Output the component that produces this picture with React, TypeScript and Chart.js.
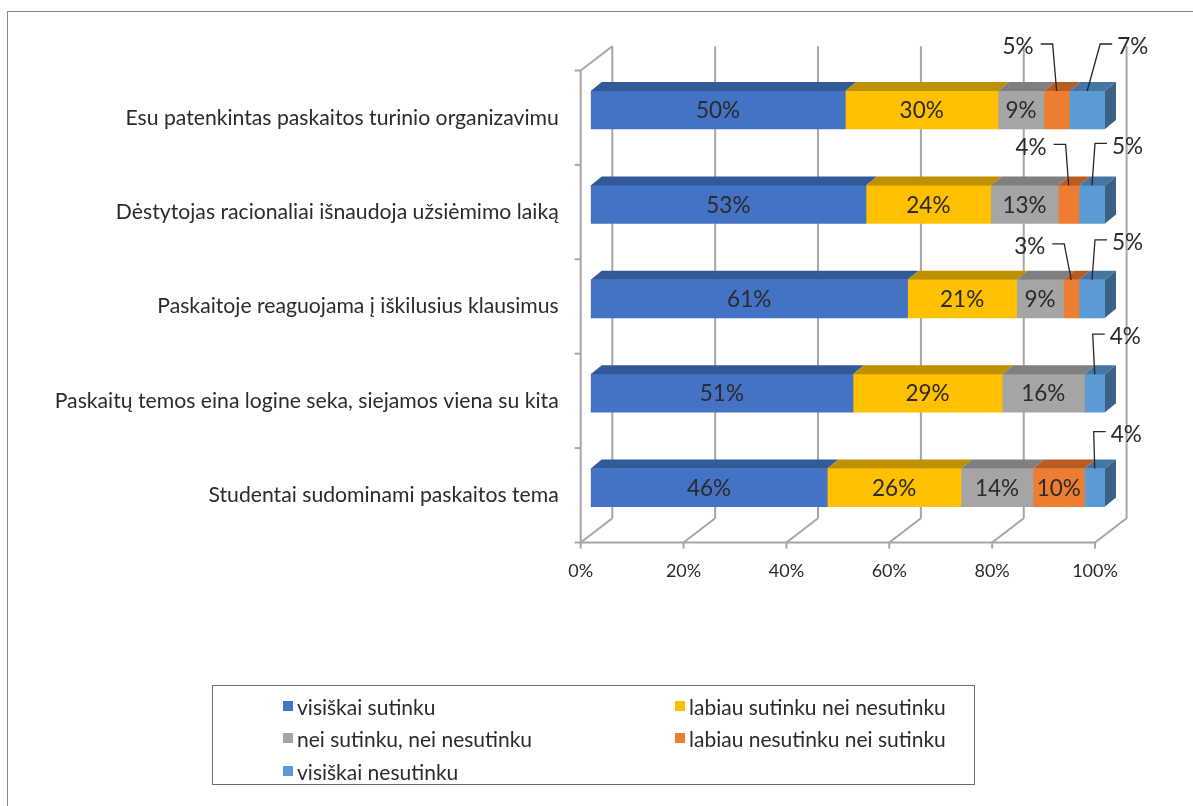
import React, { useEffect, useRef } from "react";
import { Chart, registerables } from "chart.js";
Chart.register(...registerables);

// ---------- data ----------
const categories = [
  "Esu patenkintas paskaitos turinio organizavimu",
  "Dėstytojas racionaliai išnaudoja užsiėmimo laiką",
  "Paskaitoje reaguojama į iškilusius klausimus",
  "Paskaitų temos eina logine seka, siejamos viena su kita",
  "Studentai sudominami paskaitos tema",
];
const seriesNames = [
  "visiškai sutinku",
  "labiau sutinku nei nesutinku",
  "nei sutinku, nei nesutinku",
  "labiau nesutinku nei sutinku",
  "visiškai nesutinku",
];
const visiskaiSutinku = [50, 53, 61, 51, 46];
const labiauSutinku = [30, 24, 21, 29, 26];
const neiSutinku = [9, 13, 9, 16, 14];
const labiauNesutinku = [5, 4, 3, 0, 10];
const visiskaiNesutinku = [7, 5, 5, 4, 4];
const xTickValues = [0, 20, 40, 60, 80, 100];

// ---------- styles ----------
const FONT = "Lato, 'Open Sans', sans-serif";
const frontColors = ["#4472C4", "#FFC000", "#A5A5A5", "#ED7D31", "#5B9BD5"];
const topColors = ["#335A98", "#BF9000", "#7F7F7F", "#BA5C22", "#4575A3"];
const SIDE_COLOR = "#3B6186";
const GRID = "#A6A6A6";
const TEXT = "#2B2B2B";
const FRONT = { dx: -10, dy: 7.7 };
const BACK = { dx: 21.6, dy: -16.6 };
const BAR_DEPTH = { dx: 11, dy: -9 };
// callout leader style per row: [elbow dx, elbow lift]
const orangeCallout = [[-4, 47], [-3, 41], [-7, 36], [0, 40], [0, 40]];
const blueCallout = [[13, 47], [3, 42], [3, 40], [-2, 40], [-1, 37]];

const seriesData = [visiskaiSutinku, labiauSutinku, neiSutinku, labiauNesutinku, visiskaiNesutinku];
const rowSums = categories.map((_, r) => seriesData.reduce((s, arr) => s + arr[r], 0));

const depthPlugin = {
  id: "depth3d",
  beforeDatasetsDraw(chart: any) {
    const { ctx, chartArea, scales } = chart;
    const xs = scales.x;
    const top = chartArea.top, bottom = chartArea.bottom;
    ctx.save();
    ctx.strokeStyle = GRID;
    ctx.lineWidth = 2;
    const line = (x1: number, y1: number, x2: number, y2: number) => {
      ctx.beginPath(); ctx.moveTo(x1, y1); ctx.lineTo(x2, y2); ctx.stroke();
    };
    const x0 = xs.getPixelForValue(0);
    const x100 = xs.getPixelForValue(100);
    xTickValues.forEach((v) => {
      const px = xs.getPixelForValue(v);
      line(px + BACK.dx, top + BACK.dy, px + BACK.dx, bottom + BACK.dy);
      line(px + FRONT.dx, bottom + FRONT.dy, px + BACK.dx, bottom + BACK.dy);
      line(px + FRONT.dx, bottom + FRONT.dy, px + FRONT.dx, bottom + FRONT.dy + 6);
    });
    line(x0 + FRONT.dx, top + FRONT.dy, x0 + FRONT.dx, bottom + FRONT.dy);
    line(x0 + FRONT.dx, top + FRONT.dy, x0 + BACK.dx, top + BACK.dy);
    line(x0 + FRONT.dx, bottom + FRONT.dy, x100 + FRONT.dx, bottom + FRONT.dy);
    const n = categories.length;
    const step = (bottom - top) / n;
    for (let i = 0; i <= n; i++) {
      const y = top + i * step + FRONT.dy;
      line(x0 + FRONT.dx - 6, y, x0 + FRONT.dx, y);
    }
    ctx.restore();
  },
  afterDatasetsDraw(chart: any) {
    const { ctx } = chart;
    ctx.save();
    const n = categories.length;
    const nd = chart.data.datasets.length;
    // top faces and side face
    for (let r = 0; r < n; r++) {
      let lastEl: any = null;
      for (let d = 0; d < nd; d++) {
        const el = chart.getDatasetMeta(d).data[r];
        const p = el.getProps(["x", "base", "y", "height"], true);
        if (Math.abs(p.x - p.base) < 0.5) continue;
        const t = p.y - p.height / 2;
        ctx.fillStyle = topColors[d];
        ctx.beginPath();
        ctx.moveTo(p.base, t);
        ctx.lineTo(p.x, t);
        ctx.lineTo(p.x + BAR_DEPTH.dx, t + BAR_DEPTH.dy);
        ctx.lineTo(p.base + BAR_DEPTH.dx, t + BAR_DEPTH.dy);
        ctx.closePath();
        ctx.fill();
        lastEl = p;
      }
      if (lastEl) {
        const t = lastEl.y - lastEl.height / 2;
        const b = lastEl.y + lastEl.height / 2;
        ctx.fillStyle = SIDE_COLOR;
        ctx.beginPath();
        ctx.moveTo(lastEl.x, t);
        ctx.lineTo(lastEl.x + BAR_DEPTH.dx, t + BAR_DEPTH.dy);
        ctx.lineTo(lastEl.x + BAR_DEPTH.dx, b + BAR_DEPTH.dy);
        ctx.lineTo(lastEl.x, b);
        ctx.closePath();
        ctx.fill();
      }
    }
    // data labels
    ctx.font = `22.5px ${FONT}`;
    ctx.fillStyle = TEXT;
    ctx.strokeStyle = "#262626";
    ctx.lineWidth = 1.3;
    for (let r = 0; r < n; r++) {
      for (let d = 0; d < nd; d++) {
        const raw = seriesData[d][r];
        if (!raw) continue;
        const el = chart.getDatasetMeta(d).data[r];
        const p = el.getProps(["x", "base", "y", "height"], true);
        const cx = (p.x + p.base) / 2;
        const txt = raw + "%";
        if (d <= 2 || raw >= 10) {
          ctx.textAlign = "center";
          ctx.textBaseline = "middle";
          ctx.fillText(txt, cx, p.y + 1);
        } else {
          const t = p.y - p.height / 2;
          const st = d === 3 ? orangeCallout[r] : blueCallout[r];
          const ex = cx + st[0];
          const ey = t - st[1];
          const dir = d === 3 ? -1 : 1;
          const hx = ex + dir * 12;
          ctx.beginPath();
          ctx.moveTo(cx, t);
          ctx.lineTo(ex, ey);
          ctx.lineTo(hx, ey);
          ctx.stroke();
          ctx.textBaseline = "middle";
          if (dir < 0) {
            ctx.textAlign = "right";
            ctx.fillText(txt, hx - 7, ey + 3);
          } else {
            ctx.textAlign = "left";
            ctx.fillText(txt, hx + 5, ey + 3);
          }
        }
      }
    }
    ctx.restore();
  },
};

export default function App() {
  const canvasRef = useRef<HTMLCanvasElement | null>(null);
  useEffect(() => {
    if (!canvasRef.current) return;
    const chart = new Chart(canvasRef.current, {
      type: "bar",
      data: {
        labels: categories,
        datasets: seriesData.map((arr, i) => ({
          label: seriesNames[i],
          data: arr.map((v, r) => (v / rowSums[r]) * 100),
          backgroundColor: frontColors[i],
          borderWidth: 0,
          barThickness: 38,
        })),
      },
      options: {
        indexAxis: "y",
        animation: false,
        responsive: false,
        maintainAspectRatio: false,
        layout: { padding: { left: 0, right: 88, top: 50.8, bottom: 211.2 } },
        scales: {
          x: {
            stacked: true,
            min: 0,
            max: 100,
            afterFit: (s: any) => { s.height = 60; },
            afterBuildTicks: (s: any) => { s.ticks = xTickValues.map((v) => ({ value: v })); },
            ticks: {
              callback: (v: any) => v + "%",
              labelOffset: -10,
              padding: 26,
              autoSkip: false,
              maxRotation: 0,
              color: TEXT,
              font: { family: FONT, size: 18 },
            },
            grid: { display: false, drawTicks: false },
            border: { display: false },
          },
          y: {
            stacked: true,
            afterFit: (s: any) => { s.width = 582.7; },
            ticks: {
              labelOffset: 7.7,
              padding: 32,
              autoSkip: false,
              color: TEXT,
              font: { family: FONT, size: 21.2 },
            },
            grid: { display: false, drawTicks: false },
            border: { display: false },
          },
        },
        plugins: { legend: { display: false }, tooltip: { enabled: false } },
      },
      plugins: [depthPlugin],
    } as any);
    return () => chart.destroy();
  }, []);

  const legendPos = [
    [70, 20], [462, 20],
    [70, 52], [462, 52],
    [70, 85],
  ];
  return (
    <div
      style={{
        position: "absolute", left: 7, top: 11, width: 1186, height: 795,
        borderLeft: "1px solid #8a8a8a", borderTop: "1px solid #8a8a8a", background: "#fff",
      }}
    >
      <canvas ref={canvasRef} width={1185} height={794} style={{ display: "block" }} />
      <div
        style={{
          position: "absolute", left: 204, top: 673, width: 763, height: 100,
          border: "1px solid #6e6e6e", boxSizing: "border-box",
          fontFamily: FONT, fontSize: 21, color: TEXT,
        }}
      >
        {seriesNames.map((name, i) => (
          <div
            key={name}
            style={{
              position: "absolute", left: legendPos[i][0], top: legendPos[i][1] - 13,
              height: 26, display: "flex", alignItems: "center", whiteSpace: "nowrap",
            }}
          >
            <span style={{ width: 10, height: 10, background: frontColors[i], marginRight: 4, display: "inline-block" }} />
            <span>{name}</span>
          </div>
        ))}
      </div>
    </div>
  );
}
